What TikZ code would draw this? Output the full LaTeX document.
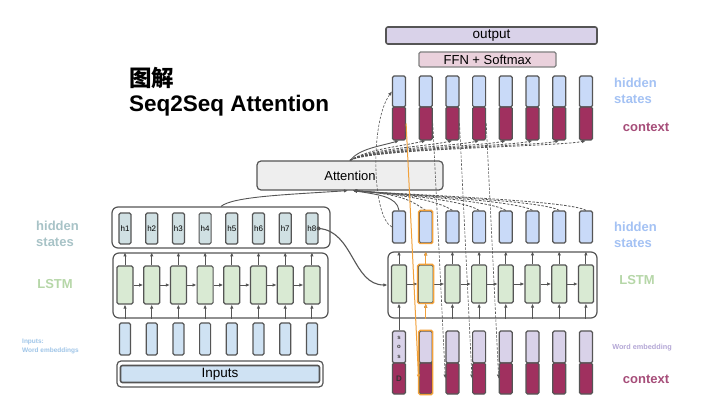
\documentclass[tikz,border=0pt]{standalone}
\usepackage{fontspec}
\setmainfont{Liberation Sans}
\newfontfamily\cjkfont{Noto Sans CJK SC}
\usepackage{tikz}
\usetikzlibrary{positioning}
\usetikzlibrary{calc}
\usetikzlibrary{arrows.meta}

\definecolor{edgegrey}{HTML}{555555}
\definecolor{encfill}{HTML}{D0E0E3}
\definecolor{lstmfill}{HTML}{D9EAD3}
\definecolor{embfill}{HTML}{CFE2F3}
\definecolor{decfill}{HTML}{C9DAF8}
\definecolor{wordfill}{HTML}{D9D2E9}
\definecolor{ctxfill}{HTML}{A0305F}
\definecolor{outfill}{HTML}{D9D2E9}
\definecolor{ffnfill}{HTML}{EAD1DC}
\definecolor{attfill}{HTML}{EEEEEE}
\definecolor{hiliteorange}{HTML}{F2A13A}
\definecolor{enclabel}{HTML}{A8C3C7}
\definecolor{declabel}{HTML}{A4C2F4}
\definecolor{lstmlabel}{HTML}{B6D7A8}
\definecolor{wordlabel}{HTML}{B4A7D6}
\definecolor{inlabel}{HTML}{9FC5E8}
\definecolor{ctxlabel}{HTML}{A64D79}

\tikzset{
	vec/.style={draw=edgegrey, line width=1.2pt, rounded corners=1.5pt, inner sep=0pt, minimum width=12, minimum height=31},
	groupbox/.style={draw=edgegrey, line width=1.2pt, rounded corners=6pt, inner sep=0pt},
	sidetext/.style={font=\bfseries\fontsize{13}{16}\selectfont, align=left, inner sep=0pt},
	arr/.style={edgegrey, line width=0.9pt, -{Latex[length=4pt,width=3.5pt]}},
	dasharr/.style={arr, line width=0.8pt, dash pattern=on 2.5pt off 1.5pt},
	hilite/.style={draw=hiliteorange, line width=1.3pt, rounded corners=1.5pt},
}

\begin{document}
\begin{tikzpicture}[x=1pt, y=-1pt]
	\fill[white] (0,0) rectangle (707,403);
	\useasboundingbox (0,0) rectangle (707,403);

	% Title
	\node[anchor=west, inner sep=0pt, font=\cjkfont\bfseries\fontsize{22.5}{24}\selectfont] (title1) at (129,78) {图解};
	\node[anchor=west, inner sep=0pt, font=\bfseries\fontsize{22.5}{24}\selectfont] (title2) at (129,106) {Seq2Seq Attention};

	% Encoder
	\node[groupbox, minimum width=218, minimum height=41] (encH) at (221,227.5) {};
	\node[groupbox, minimum width=215, minimum height=65] (encL) at (220.5,285.5) {};
	\node[groupbox, rounded corners=4pt, minimum width=206, minimum height=26] (encIn) at (220,374) {};
	\node[vec, fill=embfill, line width=1.6pt, rounded corners=2pt, minimum width=199, minimum height=17, font=\fontsize{13.5}{15}\selectfont] (inputs) at (220,374) {Inputs};
	\foreach \i in {1,...,8} {
		\node[vec, fill=encfill, font=\fontsize{8}{9}\selectfont] (h\i) at ({125+26.7*(\i-1)},228.5) {h\i};
		\node[vec, fill=lstmfill, minimum width=16, minimum height=38] (el\i) at ({125+26.7*(\i-1)},285) {};
		\node[vec, fill=embfill, minimum width=11, minimum height=32] (ee\i) at ({125+26.7*(\i-1)},339) {};
	}

	% Attention and decoder
	\node[vec, fill=attfill, rounded corners=4pt, minimum width=186, minimum height=29, font=\fontsize{13}{15}\selectfont] (attn) at (350,175.5) {Attention};
	\node[vec, fill=outfill, line width=1.6pt, rounded corners=2pt, minimum width=211, minimum height=17, font=\fontsize{13.5}{15}\selectfont] (output) at (491.5,35.5) {output};
	\node[vec, fill=ffnfill, draw=gray, minimum width=137, minimum height=15, font=\fontsize{13}{15}\selectfont] (ffn) at (487.5,59.5) {FFN + Softmax};
	\node[groupbox, minimum width=209, minimum height=66] (decL) at (492.5,285) {};
	\foreach \i in {1,...,8} {
		\node[vec, fill=decfill, minimum width=13, minimum height=31] (th\i) at ({399+26.7*(\i-1)},91.5) {};
		\node[vec, fill=ctxfill, minimum width=13, minimum height=33, below=-1.2pt of th\i] (tc\i) {};
		\node[vec, fill=decfill, minimum width=13, minimum height=32] (dh\i) at ({399+26.7*(\i-1)},227) {};
		\node[vec, fill=lstmfill, minimum width=15, minimum height=38] (dl\i) at ({399+26.7*(\i-1)},284) {};
		\node[vec, fill=wordfill, minimum width=13, minimum height=32] (bw\i) at ({399+26.7*(\i-1)},347) {};
		\node[vec, fill=ctxfill, minimum width=13, minimum height=31, below=-1.2pt of bw\i] (bc\i) {};
	}
	\node[align=center, inner sep=0pt, text=black!75, font=\bfseries\fontsize{6}{9.5}\selectfont] (sos) at (bw1) {s\\o\\s};
	\node[inner sep=0pt, text=black!80, font=\bfseries\fontsize{8}{9}\selectfont] (eosD) at (bc1) {D};

	% Side labels
	\node[sidetext, text=enclabel, anchor=west] (encHtxt) at (36,234) {hidden\\states};
	\node[sidetext, text=lstmlabel] (encLtxt) at (55,284) {LSTM};
	\node[sidetext, text=inlabel, anchor=west, font=\bfseries\fontsize{6.5}{9}\selectfont] (encEtxt) at (22,346.5) {Inputs:\\Word embeddings};
	\node[sidetext, text=declabel, anchor=west] (topHtxt) at (614,91) {hidden\\states};
	\node[sidetext, text=ctxlabel] (topCtxt) at (646,127) {context};
	\node[sidetext, text=declabel, anchor=west] (decHtxt) at (614,235) {hidden\\states};
	\node[sidetext, text=lstmlabel] (decLtxt) at (637,280) {LSTM};
	\node[sidetext, text=wordlabel, font=\bfseries\fontsize{7.3}{9}\selectfont] (wordtxt) at (642,348) {Word embedding};
	\node[sidetext, text=ctxlabel] (botCtxt) at (646,379) {context};

	% Connections
	\foreach \i [count=\j from 2] in {1,...,7} {
		\draw[arr] (el\i) -- (el\j);
		\draw[arr] (dl\i) -- (dl\j);
	}
	\foreach \i in {1,...,8} {
		\draw[arr] (el\i.north) -- (el\i.north |- encL.north);
		\draw[arr] (el\i.south |- encL.south) -- (el\i.south);
		\draw[arr] (dl\i.north) -- (dl\i.north |- decL.north);
		\draw[arr] (dl\i.south |- decL.south) -- (dl\i.south);
	}
	\draw[edgegrey, line width=0.9pt] (bw1.north) -- (bw1.north |- decL.south);

	\coordinate (attL) at ([xshift=-2pt]attn.south);
	\coordinate (attR) at ([xshift=3pt]attn.south);
	\draw[arr] (encH.north) .. controls +(12,-10) and +(-60,4) .. (attL);
	\fill[edgegrey] (h8.east) circle (2);
	\draw[arr, line width=1.1pt] (h8.east) .. controls +(35,2) and +(-35,0) .. (decL.west);
	\draw[arr] (dh1.north) .. controls +(-2,-14) and +(25,4) .. (attR);
	\foreach \i in {2,...,8}
		\draw[dasharr] (dh\i.north) .. controls +(-15,-10) and +(50,4) .. (attR);
	\draw[arr] (attn.north) .. controls +(10,-12) and +(-20,6) .. (tc1.south);
	\foreach \i in {2,...,8}
		\draw[dasharr] (attn.north) .. controls +(20,-12) and +(-25,6) .. (tc\i.south);
	\draw[dasharr, line width=0.6pt] (dh1.west) .. controls +(-20,-10) and +(-22,30) .. (th1.west);
	\foreach \i [count=\j from 3] in {2,3,4}
		\draw[dasharr, line width=0.6pt] (tc\i.east) -- (bc\j.west);

	% Highlighted step
	\draw[hilite] (dh2.south west) rectangle (dh2.north east);
	\draw[hilite] (dl2.south west) rectangle (dl2.north east);
	\draw[hilite] (bw2.north west) rectangle (bc2.south east);
	\draw[arr, hiliteorange] (dl2.north) -- (dl2.north |- decL.north);
	\draw[arr, hiliteorange] (dl2.south |- decL.south) -- (dl2.south);
	\draw[arr, hiliteorange, line width=1pt] (tc1.east) -- (bc2.west);
\end{tikzpicture}
\end{document}
